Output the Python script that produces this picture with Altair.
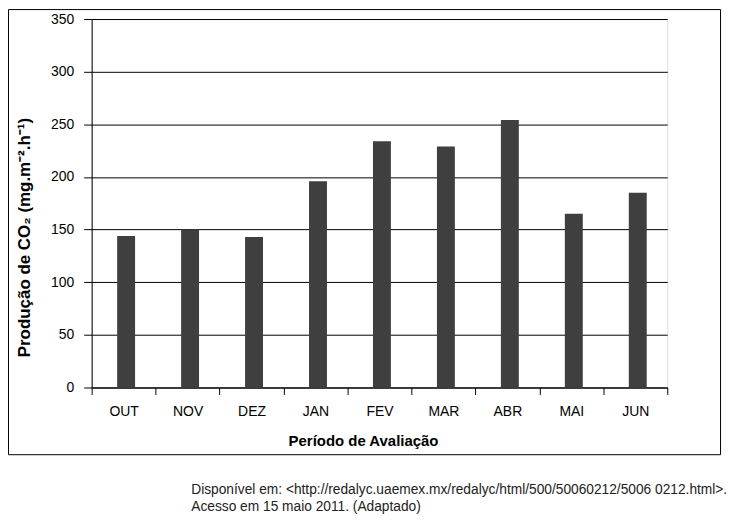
import altair as alt
import pandas as pd

months = ["OUT", "NOV", "DEZ", "JAN", "FEV", "MAR", "ABR", "MAI", "JUN"]
co2 = [144, 150, 143, 196, 234, 229, 254, 165, 185]
y_ticks = [0, 50, 100, 150, 200, 250, 300, 350]
y_title = "Produção de CO₂ (mg.m⁻².h⁻¹)"
x_title = "Período de Avaliação"
source_lines = [
    "Disponível em: <http://redalyc.uaemex.mx/redalyc/html/500/50060212/5006 0212.html>.",
    "Acesso em 15 maio 2011. (Adaptado)",
]

df = pd.DataFrame({"mes": months, "valor": co2})
FONT = "Liberation Sans"

bars = alt.Chart(df).mark_bar(size=18, color="#3f3f3f", xOffset=2.5).encode(
    x=alt.X(
        "mes:N",
        sort=months,
        scale=alt.Scale(paddingInner=0, paddingOuter=0),
        axis=alt.Axis(
            title=x_title,
            labelAngle=0,
            tickBand="extent",
            tickSize=7,
            tickColor="black",
            domainColor="black",
            labelPadding=10,
            labelFontSize=14,
            labelColor="black",
            labelFont=FONT,
            titleFont=FONT,
            titleFontSize=15,
            titleFontWeight="bold",
            titleColor="black",
            titleX=272.5,
            titleY=58.5,
            titleAlign="center",
            titleBaseline="alphabetic",
        ),
    ),
    y=alt.Y(
        "valor:Q",
        scale=alt.Scale(domain=[0, 350], nice=False),
        axis=alt.Axis(
            title=y_title,
            values=y_ticks,
            grid=True,
            gridColor="black",
            gridWidth=1,
            gridOpacity=1,
            tickSize=8,
            tickColor="black",
            domainColor="black",
            labelPadding=10,
            labelFontSize=14,
            labelColor="black",
            labelFont=FONT,
            titleFont=FONT,
            titleFontSize=17,
            titleFontWeight="bold",
            titleColor="black",
            titleX=-62,
            titleY=219,
            titleAngle=270,
            titleAlign="center",
            titleBaseline="alphabetic",
        ),
    ),
)

border = alt.Chart(alt.Data(values=[{}])).mark_rect(
    fill=None, stroke="black", strokeWidth=1
).encode(
    x=alt.value(-83.5), x2=alt.value(631.5), y=alt.value(-9.5), y2=alt.value(437.5)
)

src1 = alt.Chart(alt.Data(values=[{}])).mark_text(
    align="left", baseline="alphabetic", fontSize=13.8, font=FONT, color="#222222"
).encode(x=alt.value(100), y=alt.value(477), text=alt.value(source_lines[0]))

src2 = alt.Chart(alt.Data(values=[{}])).mark_text(
    align="left", baseline="alphabetic", fontSize=13.8, font=FONT, color="#222222"
).encode(x=alt.value(100), y=alt.value(494.5), text=alt.value(source_lines[1]))

chart = (
    alt.layer(bars, border, src1, src2)
    .properties(
        width=578,
        height=370,
        autosize=alt.AutoSizeParams(type="none"),
        padding={"left": 84, "top": 10, "right": 62, "bottom": 135},
    )
    .configure_view(stroke=None)
    .configure(background="white")
)

chart.save("out.html", embed_options={"renderer": "svg", "actions": False})
